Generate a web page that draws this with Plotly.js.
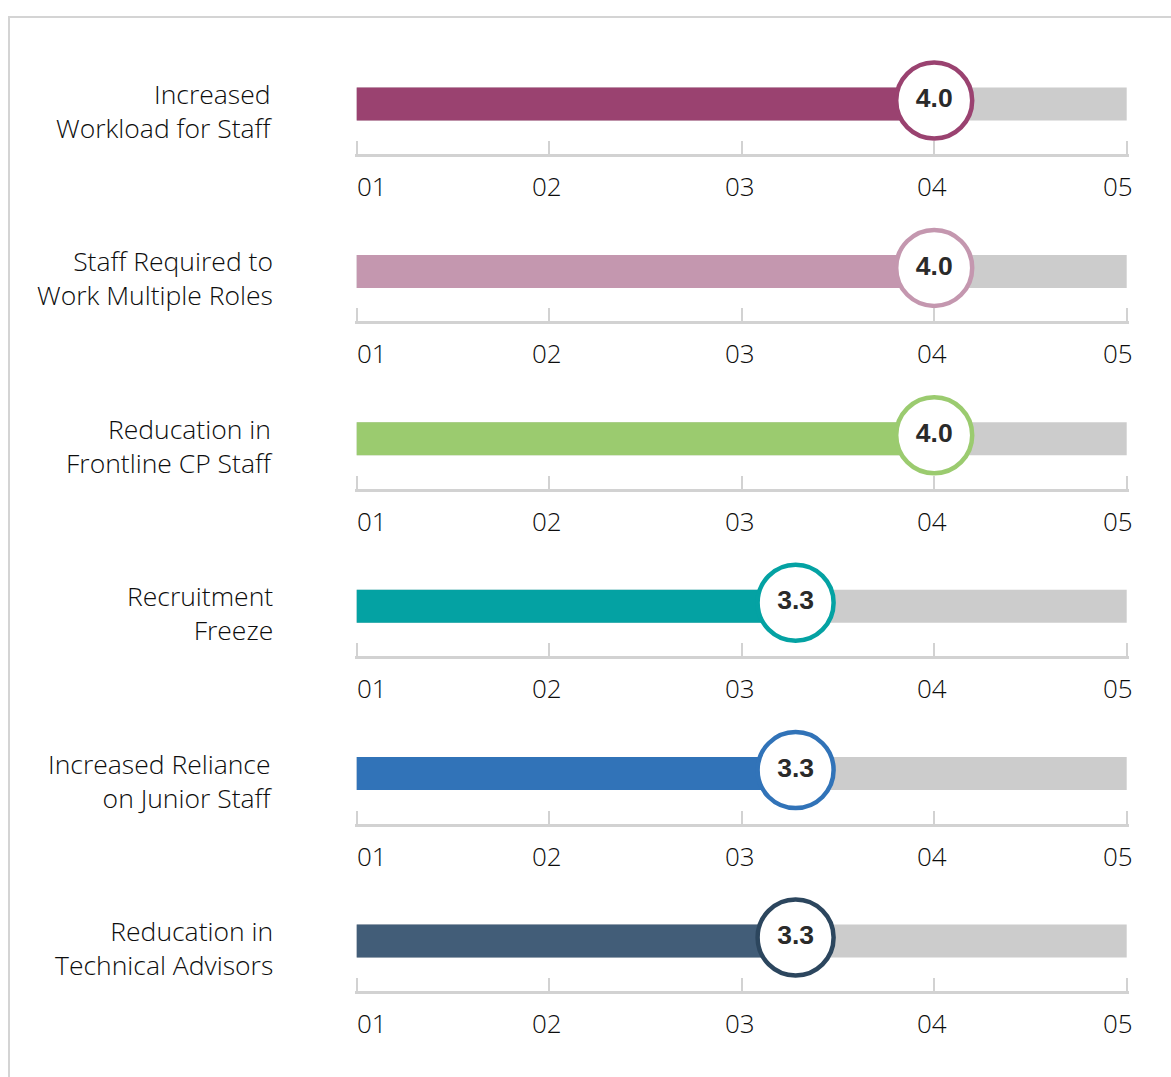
<!DOCTYPE html>
<html>
<head>
<meta charset="utf-8">
<script src="https://cdn.plot.ly/plotly-3.0.1.min.js"></script>
<style>
html,body{margin:0;padding:0;background:#fff;}
#chart{width:1171px;height:1077px;}
</style>
</head>
<body>
<div id="chart"></div>
<script>
// ---- data ----
var categories = [
  "Increased<br>Workload for Staff",
  "Staff Required to<br>Work Multiple Roles",
  "Reducation in<br>Frontline CP Staff",
  "Recruitment<br>Freeze",
  "Increased Reliance<br>on Junior Staff",
  "Reducation in<br>Technical Advisors"
];
var scores = [4.0, 4.0, 4.0, 3.28, 3.28, 3.28];
var barColors = ["#9a4270", "#c497af", "#9bcb6f", "#04a2a3", "#3173b8", "#425d78"];
var ringColors = ["#9a4270", "#c497af", "#9bcb6f", "#04a2a3", "#3173b8", "#2c465e"];
var scaleMin = 1;
var scaleMax = 5;
var tickValues = [1, 2, 3, 4, 5];
var tickLabels = ["01", "02", "03", "04", "05"];

// ---- layout helpers ----
var W = 1171, H = 1077;
var firstAxisPx = 154, rowStep = 167.4, rowH = 100;
var pad = 0.01;               // small range padding so end ticks are drawn
var pxPerUnit = 192.5;
var xDomain = [(356.7 - pad * pxPerUnit) / W, (1126.7 + pad * pxPerUnit) / W];
var labelFont = {family: "'Open Sans', 'Liberation Sans', sans-serif", size: 26.5, color: "#0d0d0d", weight: 300};
var tickFont = {family: "'Open Sans', 'Liberation Sans', sans-serif", size: 26, color: "#0d0d0d", weight: 300};
var valueFont = {family: "'Liberation Sans', Arial, sans-serif", size: 26.5, color: "#2a2a2a", weight: 700};

var traces = [];
var layout = {
  width: W, height: H,
  margin: {l: 0, r: 0, t: 0, b: 0},
  paper_bgcolor: "#ffffff",
  plot_bgcolor: "rgba(0,0,0,0)",
  showlegend: false,
  barmode: "overlay",
  annotations: [],
  shapes: [{
    type: "rect", xref: "paper", yref: "paper",
    x0: 9 / W, x1: 1.05, y0: -0.05, y1: 1 - 17 / H,
    line: {color: "#d4d4d4", width: 2}, fillcolor: "rgba(0,0,0,0)", layer: "below"
  }]
};

categories.forEach(function (cat, i) {
  var n = i + 1;
  var xa = n === 1 ? "x" : "x" + n;
  var ya = n === 1 ? "y" : "y" + n;
  var xKey = n === 1 ? "xaxis" : "xaxis" + n;
  var yKey = n === 1 ? "yaxis" : "yaxis" + n;
  var bottomPx = firstAxisPx + rowStep * i;
  var d0 = (H - bottomPx) / H;
  var d1 = (H - bottomPx + rowH) / H;

  layout[xKey] = {
    domain: xDomain, range: [scaleMin - pad, scaleMax + pad], anchor: ya,
    showgrid: false, zeroline: false,
    showline: true, linecolor: "#d2d2d2", linewidth: 3,
    tickmode: "array", tickvals: tickValues, ticks: "inside",
    ticklen: 13, tickwidth: 2, tickcolor: "#d2d2d2",
    showticklabels: false, fixedrange: true
  };
  layout[yKey] = {
    domain: [d0, d1], range: [0, rowH], anchor: xa,
    visible: false, fixedrange: true
  };

  // grey track
  traces.push({
    type: "bar", orientation: "h", xaxis: xa, yaxis: ya,
    y: [50], x: [scaleMax - scaleMin], base: [scaleMin], width: [33],
    marker: {color: "#cccccc"}, hoverinfo: "skip"
  });
  // value bar
  traces.push({
    type: "bar", orientation: "h", xaxis: xa, yaxis: ya,
    y: [50], x: [scores[i] - scaleMin], base: [scaleMin], width: [33],
    marker: {color: barColors[i]}, hoverinfo: "skip"
  });
  // value bubble
  traces.push({
    type: "scatter", mode: "markers+text", xaxis: xa, yaxis: ya,
    x: [scores[i]], y: [53.5], cliponaxis: false,
    marker: {size: 76, color: "#ffffff", line: {color: ringColors[i], width: 4.5}},
    text: [scores[i].toFixed(1)], textposition: "middle center",
    textfont: valueFont, hoverinfo: "skip"
  });

  // category label
  layout.annotations.push({
    xref: "paper", yref: ya + " domain", x: 271 / W, y: 0.43, xshift: 4,
    xanchor: "right", yanchor: "middle", align: "right",
    text: cat, showarrow: false, font: labelFont
  });
  // tick labels
  tickValues.forEach(function (tv, k) {
    var anchor = k === 0 ? "left" : (k === tickValues.length - 1 ? "right" : "center");
    var shift = k === 0 ? -2 : (k === tickValues.length - 1 ? 8 : -2);
    layout.annotations.push({
      xref: xa, yref: ya + " domain", x: tv, y: -0.32,
      xanchor: anchor, yanchor: "middle", xshift: shift,
      text: tickLabels[k], showarrow: false, font: tickFont
    });
  });
});

Plotly.newPlot("chart", traces, layout, {displayModeBar: false, staticPlot: true});
</script>
</body>
</html>
